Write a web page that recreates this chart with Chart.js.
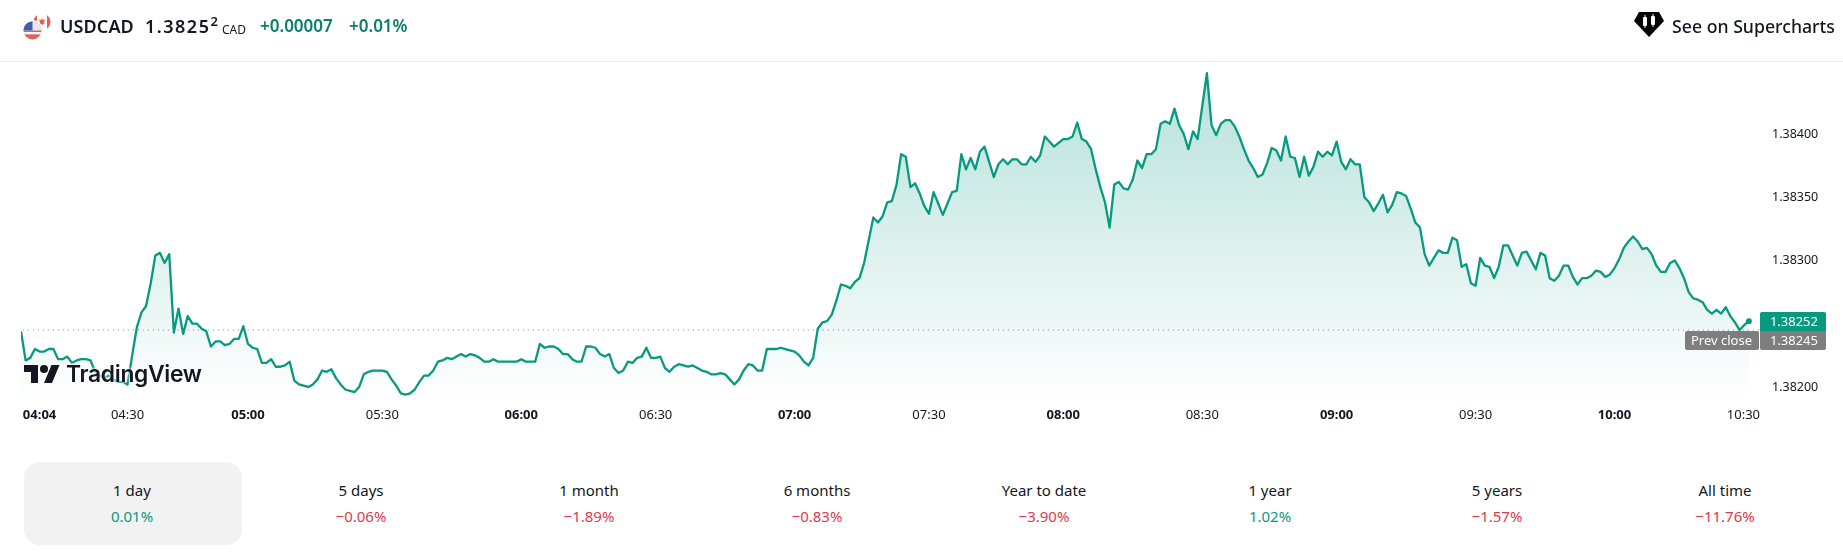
<!DOCTYPE html>
<html>
<head>
<meta charset="utf-8">
<title>USDCAD</title>
<script src="https://cdn.jsdelivr.net/npm/chart.js@4"></script>
<style>
  html, body { margin: 0; padding: 0; background: #fff; }
  body { width: 1843px; height: 556px; position: relative; overflow: hidden; font-family: "Noto Sans", sans-serif; color: #131722; }
  .abs { position: absolute; white-space: nowrap; }
  #chart { position: absolute; left: 0; top: 0; }
  #rule { position: absolute; left: 0; top: 61px; width: 1843px; height: 1px; background: #ebebeb; }
  .tag { position: absolute; height: 19px; line-height: 19px; font-size: 13px; color: #fff; text-align: right; box-sizing: border-box; padding-right: 8px; }
  .range { position: absolute; top: 477px; width: 220px; text-align: center; font-size: 15px; line-height: 26px; }
  .range b { display: block; font-weight: 400; font-size: 15px; }
  .up { color: #089981; } .down { color: #e0394d; }
</style>
</head>
<body>
<canvas id="chart" width="1843" height="440"></canvas>
<div id="rule"></div>

<!-- header -->
<svg class="abs" style="left:22px;top:13px" width="30" height="28" viewBox="0 0 30 28">
  <circle cx="20" cy="9" r="8.5" fill="#e2605a"/>
  <rect x="15" y="0" width="10" height="18" fill="#fff"/>
  <path d="M20 5l1 2 2-.5-1 3 1 .5-3 2-3-2 1-.5-1-3 2 .5z" fill="#e2605a"/>
  <circle cx="10.5" cy="17.5" r="10.5" fill="#fff"/>
  <circle cx="10.5" cy="17.5" r="9" fill="#e2605a"/>
  <path d="M1.5 17.5a9 9 0 0 1 18 0z" fill="#e8e8ee"/>
  <path d="M3 12.5a9 9 0 0 1 7.5-4v9h-9a9 9 0 0 1 1.5-5z" fill="#3f5fa8"/>
  <rect x="1.6" y="19" width="17.8" height="2.4" fill="#f2f2f2"/>
</svg>
<div class="abs" style="left:60px;top:14px;font-size:18px;font-weight:600;letter-spacing:.1px">USDCAD</div>
<div class="abs" style="left:145px;top:14px;font-size:18px;font-weight:600;letter-spacing:1.5px">1.3825<sup style="font-size:13px;line-height:0">2</sup></div>
<div class="abs" style="left:222px;top:21px;font-size:12px">CAD</div>
<div class="abs" style="left:260px;top:14px;font-size:17px;font-weight:600;color:#0b7f6c">+0.00007</div>
<div class="abs" style="left:349px;top:14px;font-size:17px;font-weight:600;color:#0b7f6c">+0.01%</div>
<svg class="abs" style="left:1634px;top:12px" width="30" height="26" viewBox="0 0 30 26">
  <path d="M5 0H25L30 9L15 25L0 9Z" fill="#000"/>
  <rect x="9" y="5" width="4" height="9" rx="1" fill="#fff"/>
  <rect x="17" y="4" width="4" height="9" rx="1" fill="#fff"/>
  <rect x="10.5" y="3" width="1" height="13" fill="#fff"/>
  <rect x="18.5" y="2" width="1" height="13" fill="#fff"/>
</svg>
<div class="abs" style="left:1672px;top:14px;font-size:17.7px;font-weight:500">See on Supercharts</div>

<!-- watermark -->
<svg class="abs" style="left:24px;top:361px" width="36" height="28" viewBox="0 0 36 28">
  <path d="M14 22H7V11H0V4h14v18zM28 22h-8l7.5-18h8L28 22z" fill="#131722"/>
  <circle cx="20" cy="8" r="4" fill="#131722"/>
</svg>
<div class="abs" style="left:66px;top:360px;font-family:Inter,sans-serif;font-size:22.8px;font-weight:600;letter-spacing:-.3px;color:#131722;text-shadow:0 0 3px #fff,0 0 3px #fff">TradingView</div>

<!-- price tags -->
<div class="tag" style="left:1760px;top:312px;width:66px;background:#089981;border-radius:2px 2px 0 0">1.38252</div>
<div class="tag" style="left:1760px;top:331px;width:66px;background:#7e7e7e;border-radius:0 0 2px 2px">1.38245</div>
<div class="tag" style="left:1685px;top:331px;width:74px;background:#7e7e7e;border-radius:2px;padding-right:7px">Prev close</div>

<!-- performance row -->
<div class="abs" style="left:24px;top:462px;width:218px;height:83px;background:#f2f2f2;border-radius:16px"></div>
<div id="ranges"></div>

<script>
// price per bar, oldest first
const prices = [
  1.38244,1.38221,1.38223,1.38230,1.38228,1.38228,1.38230,1.38230,1.38222,1.38222,1.38224,1.38219,1.38221,1.38222,1.38222,1.38221,
  1.38212,1.38209,1.38207,1.38209,1.38206,1.38204,1.38204,1.38202,1.38225,
  1.38247,1.38259,1.38264,1.38282,1.38304,1.38306,1.38298,1.38305,1.38243,1.38262,1.38242,1.38256,1.38250,1.38250,1.38246,1.38244,
  1.38232,1.38236,1.38236,1.38233,1.38234,1.38238,1.38238,1.38248,1.38234,1.38231,
  1.38230,1.38219,1.38219,1.38222,1.38216,1.38216,1.38217,1.38220,1.38205,1.38202,
  1.38201,1.38200,1.38202,1.38206,1.38213,1.38212,1.38214,1.38207,1.38202,1.38198,
  1.38197,1.38196,1.38200,1.38210,1.38212,1.38213,1.38213,1.38213,1.38212,1.38206,
  1.38201,1.38195,1.38194,1.38195,1.38198,1.38204,1.38209,1.38209,1.38213,1.38220,
  1.38221,1.38223,1.38222,1.38224,1.38226,1.38224,1.38226,1.38225,1.38223,1.38220,
  1.38220,1.38222,1.38220,1.38220,1.38220,1.38220,1.38220,1.38222,1.38220,1.38220,
  1.38220,1.38234,1.38231,1.38232,1.38232,1.38230,1.38226,1.38226,1.38222,1.38220,
  1.38220,1.38232,1.38232,1.38231,1.38226,1.38224,1.38226,1.38215,1.38211,1.38213,
  1.38220,1.38219,1.38223,1.38224,1.38231,1.38223,1.38223,1.38224,1.38215,1.38212,
  1.38216,1.38218,1.38217,1.38216,1.38217,1.38215,1.38213,1.38212,1.38210,1.38210,
  1.38211,1.38210,1.38206,1.38202,1.38206,1.38213,1.38218,1.38217,1.38213,1.38213,
  1.38230,1.38230,1.38230,1.38231,1.38230,1.38229,1.38228,1.38225,1.38220,1.38217,
  1.38223,1.38246,1.38251,1.38252,1.38257,1.38268,1.38281,1.38280,1.38278,1.38283,
  1.38286,1.38298,1.38316,1.38334,1.38330,1.38335,1.38346,1.38347,1.38360,1.38384,
  1.38382,1.38358,1.38361,1.38353,1.38343,1.38337,1.38354,1.38345,1.38336,1.38345,
  1.38354,1.38355,1.38384,1.38372,1.38381,1.38372,1.38386,1.38390,1.38378,1.38366,
  1.38376,1.38380,1.38376,1.38380,1.38380,1.38376,1.38376,1.38382,1.38378,1.38383,
  1.38398,1.38394,1.38390,1.38393,1.38396,1.38396,1.38398,1.38409,1.38396,1.38394,
  1.38388,1.38372,1.38358,1.38346,1.38326,1.38360,1.38362,1.38357,1.38356,1.38364,
  1.38379,1.38373,1.38384,1.38384,1.38388,1.38408,1.38410,1.38408,1.38420,1.38407,
  1.38400,1.38388,1.38402,1.38396,1.38422,1.38448,1.38407,1.38399,1.38408,1.38411,
  1.38411,1.38406,1.38398,1.38388,1.38379,1.38373,1.38366,1.38368,1.38377,1.38389,
  1.38387,1.38379,1.38398,1.38382,1.38381,1.38366,1.38382,1.38367,1.38374,1.38386,
  1.38382,1.38386,1.38383,1.38394,1.38378,1.38372,1.38380,1.38376,1.38376,1.38350,
  1.38346,1.38339,1.38345,1.38352,1.38338,1.38344,1.38354,1.38353,1.38351,1.38341,
  1.38330,1.38326,1.38305,1.38296,1.38302,1.38308,1.38306,1.38306,1.38318,1.38316,
  1.38295,1.38297,1.38282,1.38280,1.38302,1.38296,1.38295,1.38286,1.38295,1.38312,
  1.38312,1.38304,1.38296,1.38306,1.38307,1.38300,1.38293,1.38306,1.38304,1.38286,
  1.38284,1.38288,1.38296,1.38296,1.38287,1.38281,1.38286,1.38286,1.38288,1.38292,
  1.38291,1.38287,1.38289,1.38294,1.38301,1.38310,1.38315,1.38319,1.38315,1.38309,
  1.38310,1.38305,1.38296,1.38291,1.38291,1.38298,1.38300,1.38294,1.38286,1.38275,
  1.38270,1.38269,1.38267,1.38261,1.38258,1.38261,1.38258,1.38263,1.38256,1.38251,
  1.38245,1.38249,1.38252
];
const prevClose = 1.38245;

// time axis is bar based, not linear in minutes
const timeBars = [0.4,23,49,78,108,137,167,196,225,255,284,314,344,375.4];
const timeLabels = ["04:04","04:30","05:00","05:30","06:00","06:30","07:00","07:30","08:00","08:30","09:00","09:30","10:00","10:30"];
const hourLabels = ["04:04","05:00","06:00","07:00","08:00","09:00","10:00"];
const priceTicks = [1.382,1.383,1.3835,1.384];

const rangeNames = ["1 day","5 days","1 month","6 months","Year to date","1 year","5 years","All time"];
const rangeValues = ["0.01%","−0.06%","−1.89%","−0.83%","−3.90%","1.02%","−1.57%","−11.76%"];
const rangeCenters = [132,361,589,817,1044,1270,1497,1725];

const LINE = "#089981";
const FONT = '"Noto Sans", sans-serif';

const ranges = document.getElementById("ranges");
rangeNames.forEach((name, i) => {
  const el = document.createElement("div");
  el.className = "range";
  el.style.left = (rangeCenters[i] - 110) + "px";
  el.innerHTML = name + '<b class="' + (rangeValues[i][0] === "−" ? "down" : "up") + '">' + rangeValues[i] + "</b>";
  ranges.appendChild(el);
});

function areaFill(context) {
  const { ctx, chartArea } = context.chart;
  if (!chartArea) return "rgba(8,153,129,0.1)";
  const g = ctx.createLinearGradient(0, chartArea.top, 0, chartArea.bottom);
  g.addColorStop(0, "rgba(8,153,129,0.30)");
  g.addColorStop(0.76, "rgba(8,153,129,0.075)");
  g.addColorStop(1, "rgba(8,153,129,0)");
  return g;
}

new Chart(document.getElementById("chart"), {
  type: "line",
  data: {
    datasets: [
      {
        data: prices.map((p, i) => ({ x: i, y: p })),
        borderColor: LINE,
        borderWidth: 2.3,
        backgroundColor: areaFill,
        fill: "start",
        tension: 0,
        borderJoinStyle: "round",
        pointRadius: ctx => ctx.dataIndex === prices.length - 1 ? 3 : 0,
        pointBackgroundColor: LINE,
        pointBorderWidth: 0
      },
      {
        data: [{ x: 0.4, y: prevClose }, { x: 375.4, y: prevClose }],
        borderColor: "#7f828c",
        borderWidth: 1,
        borderDash: [1, 4],
        pointRadius: 0,
        fill: false
      }
    ]
  },
  options: {
    responsive: false,
    animation: false,
    parsing: false,
    normalized: true,
    layout: { padding: { top: 62, left: 21, right: 5, bottom: 0 } },
    plugins: { legend: { display: false }, tooltip: { enabled: false } },
    scales: {
      x: {
        type: "linear",
        min: 0,
        max: 375.4,
        grid: { display: false, drawTicks: false },
        border: { display: false },
        afterBuildTicks: s => { s.ticks = timeBars.map(v => ({ value: v })); },
        afterFit: s => { s.height = 40; },
        ticks: {
          autoSkip: false,
          maxRotation: 0,
          align: "inner",
          padding: 7,
          color: "#131722",
          font: ctx => ({
            family: FONT,
            size: 13,
            weight: hourLabels.includes(timeLabels[ctx.index]) ? "bold" : "normal"
          }),
          callback: (v, i) => timeLabels[i]
        }
      },
      y: {
        position: "right",
        min: 1.381897,
        max: 1.384569,
        grid: { display: false, drawTicks: false },
        border: { display: false },
        afterBuildTicks: s => { s.ticks = priceTicks.map(v => ({ value: v })); },
        afterFit: s => { s.width = 78; },
        ticks: {
          padding: 12,
          color: "#131722",
          font: { family: FONT, size: 12.5 },
          callback: v => v.toFixed(5)
        }
      }
    }
  }
});
</script>
</body>
</html>
